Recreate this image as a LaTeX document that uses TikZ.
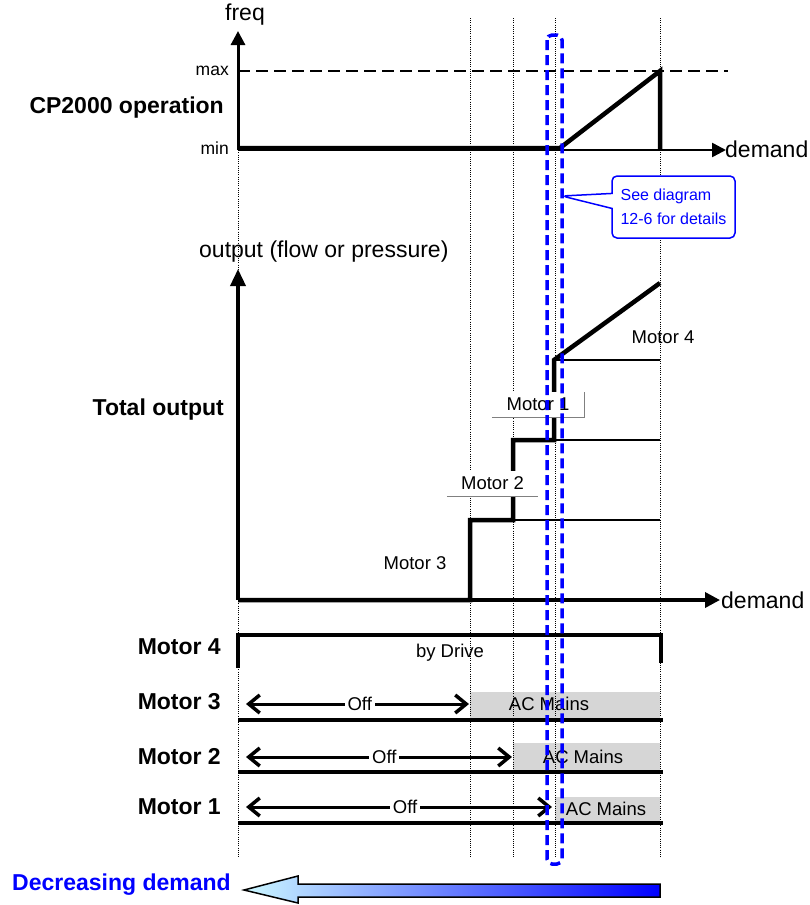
\documentclass[tikz,border=0pt]{standalone}
\usepackage{fontspec}
\setmainfont{Liberation Sans}
\usetikzlibrary{arrows.meta,shapes.callouts}
\definecolor{lightcyan}{RGB}{204,248,255}
\tikzset{
  lbl/.style={inner sep=0pt, font=\fontsize{18.5}{21}\selectfont},
  biglbl/.style={inner sep=0pt, font=\fontsize{23}{26}\selectfont},
  rowlbl/.style={inner sep=0pt, anchor=east, font=\fontsize{23}{26}\selectfont\bfseries},
  ticklbl/.style={inner sep=0pt, anchor=east, font=\fontsize{17.5}{20}\selectfont},
  axis/.style={-{Triangle[length=14pt,width=14pt]}, line width=3pt},
  guide/.style={dash pattern=on 1pt off 1.2pt, line width=1pt},
  stepline/.style={line width=4.5pt},
  levelline/.style={line width=1.5pt},
  rowline/.style={line width=4pt},
  offarrow/.style={{Straight Barb[length=11pt,width=18pt,line width=3.5pt]}-{Straight Barb[length=11pt,width=18pt,line width=3.5pt]}, line width=3pt},
  offlbl/.style={lbl, fill=white, inner xsep=3pt, inner ysep=1pt},
  mains/.style={fill=black!16},
  tagbox/.style={lbl, fill=white, minimum height=25pt},
  bluebox/.style={draw=blue, line width=3.5pt, dash pattern=on 10pt off 5pt, rounded corners=5pt},
  note/.style={rectangle callout, draw=blue, fill=white, line width=1.5pt, rounded corners=5pt,
    text=blue, align=left, minimum width=123pt, minimum height=62pt, inner sep=2pt,
    callout pointer width=15pt, font=\fontsize{16}{24}\selectfont}
}

\begin{document}
\begin{tikzpicture}[x=1pt, y=-1pt]
  \useasboundingbox (0,0) rectangle (809,905);

  % AC mains bands
  \fill[mains] (470,692) rectangle (660,718);
  \fill[mains] (513,743) rectangle (660,770);
  \fill[mains] (555,797) rectangle (660,821);

  % guide lines
  \foreach \gx in {470,513,555,660}
    \draw[guide] (\gx,18) -- (\gx,858);
  \draw[guide] (238,148) -- (238,858);

  % CP2000 operation
  \coordinate (fo) at (238,150);
  \coordinate (ftop) at (238,31);
  \coordinate (fend) at (726,150);
  \coordinate (fmin) at (238,148);
  \coordinate (fstart) at (560,148);
  \coordinate (fmax) at (660,71);
  \draw[axis] (fo) -- (ftop);
  \draw[axis, line width=2.5pt] (fo) -- (fend);
  \draw[line width=2.5pt, dash pattern=on 12pt off 6pt] (238,71) -- (728,71);
  \draw[stepline, line width=4.5pt] (fmin) -- (fstart) -- (fmax) -- (660,150);
  \node[biglbl] (freq) at (245,15) {freq};
  \node[ticklbl] (max) at (229,71) {max};
  \node[ticklbl] (min) at (229,148) {min};
  \node[rowlbl] (cpop) at (224,108) {CP2000 operation};
  \node[biglbl, anchor=west] (dem1) at (725,149) {demand};

  % total output
  \coordinate (oo) at (238,600);
  \coordinate (otop) at (238,269);
  \coordinate (oend) at (720,600);
  \draw[axis, line width=3.5pt, -{Triangle[length=17pt,width=15pt]}] (oo) -- (otop);
  \draw[axis, line width=3.5pt, -{Triangle[length=15pt,width=15pt]}] (oo) -- (oend);
  \draw[levelline] (470,520) -- (660,520);
  \draw[levelline] (513,440) -- (660,440);
  \draw[levelline] (554,360) -- (660,360);
  \draw[stepline] (oo) -- (470,600) -- (470,520) -- (513,520) -- (513,440)
    -- (554,440) -- (554,360) -- (660,283);
  \node[biglbl, anchor=west] (outlbl) at (199,252) {output (flow or pressure)};
  \node[rowlbl] (totout) at (224,410) {Total output};
  \node[biglbl, anchor=west] (dem2) at (721,600) {demand};
  \node[lbl] (m4out) at (663,337) {Motor 4};
  \node[tagbox, minimum width=92pt] (m1out) at (538,404.5) {Motor 1};
  \node[tagbox, minimum width=91pt] (m2out) at (492.5,483.5) {Motor 2};
  \node[lbl] (m3out) at (415,563) {Motor 3};
  \draw[gray, line width=1pt] (m1out.south west) -- (m1out.south east) -- (m1out.north east);
  \draw[gray, line width=1pt] (m2out.south west) -- (m2out.south east);

  % motor rows
  \node[rowlbl] (m4row) at (221,647) {Motor 4};
  \node[rowlbl] (m3row) at (221,702) {Motor 3};
  \node[rowlbl] (m2row) at (221,757) {Motor 2};
  \node[rowlbl] (m1row) at (221,807) {Motor 1};
  \draw[rowline] (238,668) -- (238,635) -- (661,635) -- (661,663);
  \node[lbl] (bydrive) at (450,653) {by Drive};
  \draw[rowline] (238,720) -- (663,720);
  \draw[rowline] (238,772) -- (663,772);
  \draw[rowline] (238,823) -- (663,823);
  \draw[offarrow] (246,704) -- (469,704) node[offlbl, pos=0.51] (off3) {Off};
  \draw[offarrow] (246,757) -- (512,757) node[offlbl, pos=0.52] (off2) {Off};
  \draw[offarrow] (246,807) -- (552,807) node[offlbl, pos=0.52] (off1) {Off};
  \node[lbl] (ac3) at (549,704) {AC Mains};
  \node[lbl] (ac2) at (583,757) {AC Mains};
  \node[lbl] (ac1) at (606,809) {AC Mains};

  % detail window and note
  \draw[bluebox] (547,35) rectangle (562,864);
  \coordinate (notetip) at (562,196);
  \node[note, callout absolute pointer={(notetip)}] (seenote) at (673.5,207)
    {See diagram\\12-6 for details};

  % decreasing demand
  \shade[left color=lightcyan, right color=blue, draw=black, line width=1.5pt]
    (660,884) -- (298,884) -- (298,876) -- (244,890) -- (298,903) -- (298,897)
    -- (660,897) -- cycle;
  \node[rowlbl, text=blue] (decr) at (231,885) {Decreasing demand};
\end{tikzpicture}
\end{document}
